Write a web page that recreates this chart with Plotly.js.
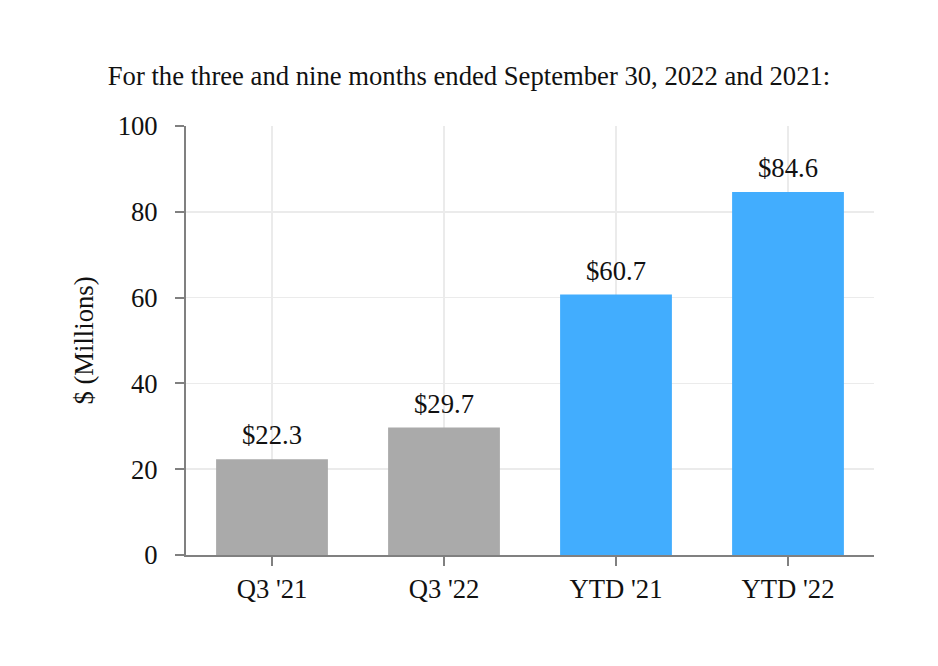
<!DOCTYPE html>
<html>
<head>
<meta charset="utf-8">
<script src="https://cdn.plot.ly/plotly-3.0.1.min.js"></script>
<style>html,body{margin:0;padding:0;background:#fff;}#chart{width:938px;height:666px;}</style>
</head>
<body>
<div id="chart"></div>
<script>
var categories = ["Q3 '21", "Q3 '22", "YTD '21", "YTD '22"];
var values = [22.3, 29.7, 60.7, 84.6];
var labels = ["$22.3", "$29.7", "$60.7", "$84.6"];
var barColors = ["#aaaaaa", "#aaaaaa", "#42adfe", "#42adfe"];
var yTicks = [0, 20, 40, 60, 80, 100];

var font = "Liberation Serif, Times New Roman, serif";
var fs = 26.67;
var trace = {
  type: "bar",
  x: categories,
  y: values,
  marker: {color: barColors},
  hoverinfo: "none"
};
var annotations = categories.map(function (c, i) {
  return {
    x: c, y: values[i], xref: "x", yref: "y",
    text: labels[i], showarrow: false,
    xanchor: "center", yanchor: "bottom", yshift: 7,
    font: {family: font, size: fs, color: "#111"}
  };
});
var layout = {
  width: 938, height: 666,
  margin: {l: 186, r: 64, t: 126, b: 111},
  paper_bgcolor: "#fff", plot_bgcolor: "#fff",
  bargap: 0.35,
  showlegend: false,
  annotations: annotations,
  font: {family: font, size: fs, color: "#111"},
  title: {text: "For the three and nine months ended September 30, 2022 and 2021:", x: 0.5, xanchor: "center", y: 0.886, yanchor: "middle", font: {family: font, size: fs, color: "#111"}},
  xaxis: {
    showgrid: true, gridcolor: "#ebebeb", gridwidth: 1.5,
    showline: true, linecolor: "#808080", linewidth: 2,
    ticks: "outside", ticklen: 9, tickcolor: "#808080", tickwidth: 2,
    tickfont: {family: font, size: fs, color: "#111"}
  },
  yaxis: {
    range: [0, 100], tickvals: yTicks,
    showgrid: true, gridcolor: "#ebebeb", gridwidth: 1.5,
    zeroline: false,
    showline: true, linecolor: "#808080", linewidth: 2,
    ticks: "outside", ticklen: 9, tickcolor: "#808080", tickwidth: 2,
    ticklabelstandoff: 12,
    tickfont: {family: font, size: fs, color: "#111"},
    title: {text: "$ (Millions)", standoff: 16, font: {family: font, size: fs, color: "#111"}}
  }
};
Plotly.newPlot("chart", [trace], layout, {staticPlot: true, displayModeBar: false});
</script>
</body>
</html>
